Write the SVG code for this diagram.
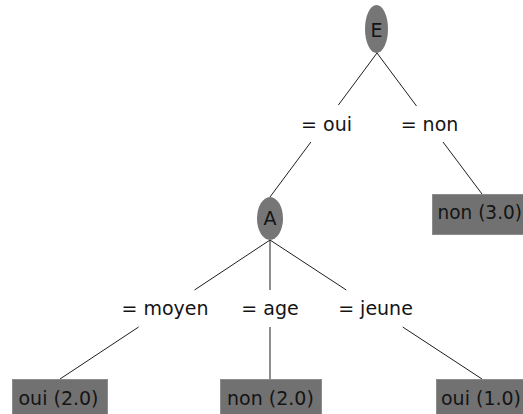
<svg xmlns="http://www.w3.org/2000/svg" width="523" height="414" viewBox="0 0 523 414">
<style>
  .edge { stroke: #1e1e1e; stroke-width: 1; fill: none; }
  .inner { fill: #767676; }
  .leaf { fill: #717171; stroke: #8c8c8c; stroke-width: 1; }
  text { font-family: "DejaVu Sans", "Liberation Sans", sans-serif; font-size: 19px; fill: #141414; }
  .mid { text-anchor: middle; }
</style>
<rect width="523" height="414" fill="#ffffff"/>
<g id="connectors">
  <path class="edge" d="M377,53 L338.4,105 M310.9,142 L270,197"/>
  <path class="edge" d="M377,53 L416.5,106 M443,142 L482,194"/>
  <path class="edge" d="M270,240 L194.5,290 M138.6,327 L60,379"/>
  <path class="edge" d="M270,240 L270,290 M270,327 L270,379"/>
  <path class="edge" d="M270,240 L346.3,290 M402.7,327 L482,379"/>
  <text class="mid" x="326.5" y="131">= oui</text>
  <text class="mid" x="429.5" y="131">= non</text>
  <text class="mid" x="165" y="315">= moyen</text>
  <text class="mid" x="270" y="315">= age</text>
  <text class="mid" x="375.5" y="315">= jeune</text>
</g>
<g id="node-E">
  <ellipse class="inner" cx="376.5" cy="29" rx="11.5" ry="24"/>
  <text class="mid" x="376.5" y="37">E</text>
</g>
<g id="node-A">
  <ellipse class="inner" cx="270" cy="218.5" rx="13" ry="21.5"/>
  <text class="mid" x="270" y="225">A</text>
</g>
<g id="leaf-non-3">
  <rect class="leaf" x="432.5" y="194.5" width="101" height="40"/>
  <text x="437.5" y="219" textLength="84.5" lengthAdjust="spacingAndGlyphs">non (3.0)</text>
</g>
<g id="leaf-oui-2">
  <rect class="leaf" x="12.5" y="379.5" width="95" height="40"/>
  <text x="18.5" y="405">oui (2.0)</text>
</g>
<g id="leaf-non-2">
  <rect class="leaf" x="220.5" y="379.5" width="101" height="40"/>
  <text x="227" y="405">non (2.0)</text>
</g>
<g id="leaf-oui-1">
  <rect class="leaf" x="436.5" y="379.5" width="95" height="40"/>
  <text x="441" y="405" textLength="80" lengthAdjust="spacingAndGlyphs">oui (1.0)</text>
</g>
</svg>
